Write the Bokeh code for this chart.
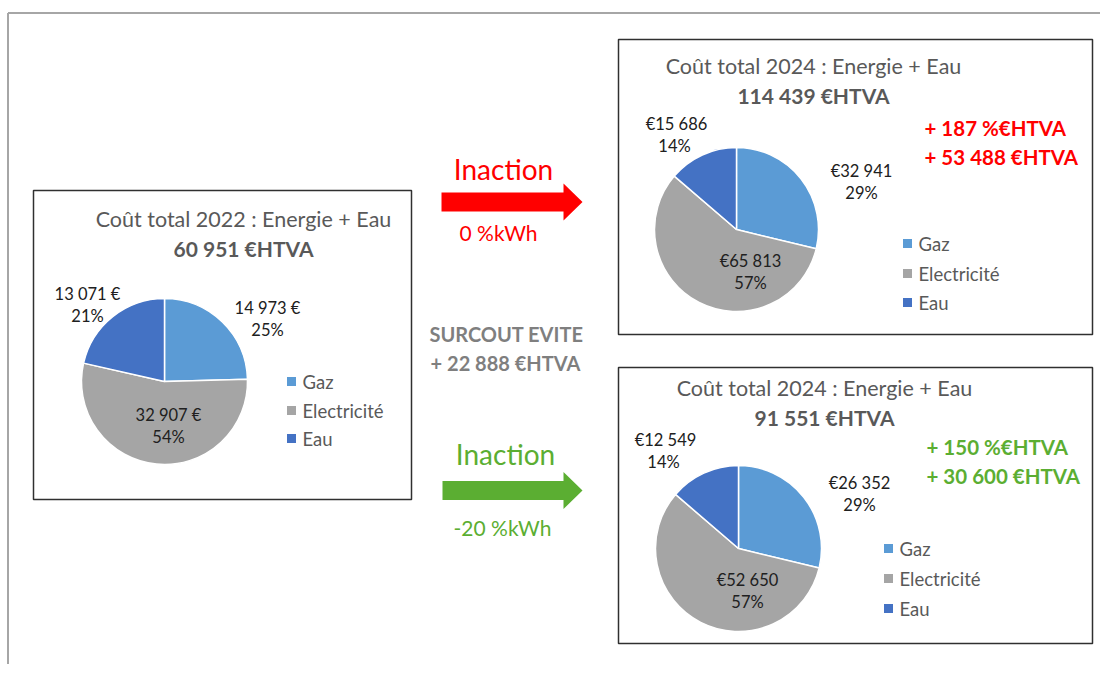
import math
from bokeh.plotting import figure
from bokeh.models import Range1d
from bokeh.core.properties import value
from bokeh.embed import file_html
from bokeh.resources import INLINE

# ---------------- data ----------------
categories = ["Gaz", "Electricité", "Eau"]
colors = ["#5B9BD5", "#A5A5A5", "#4472C4"]

values_2022 = [14973, 32907, 13071]
pct_2022 = [25, 54, 21]
total_2022 = 60951

values_2024_inaction = [32941, 65813, 15686]
pct_2024_inaction = [29, 57, 14]
total_2024_inaction = 114439

values_2024_reduc = [26352, 52650, 12549]
pct_2024_reduc = [29, 57, 14]
total_2024_reduc = 91551

delta_pct_inaction = 187
delta_eur_inaction = 53488
delta_pct_reduc = 150
delta_eur_reduc = 30600
surcout_evite = 22888
kwh_inaction = 0
kwh_reduc = -20

# ---------------- helpers ----------------
FONT = value("Lato")
W, H = 1100, 664


def Y(y):  # picture y (down) -> data y (up)
    return H - y


def sp(n):
    return f"{n:,}".replace(",", " ")


p = figure(width=W, height=H, x_range=Range1d(0, W), y_range=Range1d(0, H),
           output_backend="svg", toolbar_location=None, x_axis_type=None, y_axis_type=None,
           min_border=0, outline_line_color=None, background_fill_color="white")
p.grid.visible = False

# outer frame
p.line(x=[7.5, 7.5], y=[Y(H), Y(12.5)], line_color="#A6A6A6", line_width=2)
p.line(x=[7.5, W], y=[Y(12.5), Y(12.5)], line_color="#A6A6A6", line_width=2)


def text(x, y, s, size, color="#595959", align="center", bold=False):
    p.text(x=[x], y=[Y(y)], text=[s], text_font=FONT, text_font_size=f"{size}px",
           text_color=color, text_align=align, text_baseline="middle",
           text_font_style="bold" if bold else "normal")


def panel(box, center, r, vals, pcts, total, year, fmt, title_xy, label_pos, leg_sq_x, leg_tx_x, leg_y):
    x0, y0, x1, y1 = box
    p.rect(x=[(x0 + x1) / 2], y=[Y((y0 + y1) / 2)], width=[x1 - x0], height=[y1 - y0],
           fill_color="white", line_color="#303030", line_width=1.5)
    s = sum(vals)
    cum = 0.0
    starts, ends = [], []
    for v in vals:
        a0 = cum / s
        cum += v
        a1 = cum / s
        starts.append(math.pi / 2 - a1 * 2 * math.pi)
        ends.append(math.pi / 2 - a0 * 2 * math.pi)
    cx, cy = center
    p.wedge(x=[cx] * 3, y=[Y(cy)] * 3, radius=r, start_angle=starts, end_angle=ends,
            fill_color=colors, line_color="white", line_width=1.5)
    tx, ty = title_xy
    text(tx, ty, f"Coût total {year} : Energie + Eau", 21.5)
    text(tx, ty + 30, f"{sp(total)} €HTVA", 21, bold=True)
    for i, (v, pc) in enumerate(zip(vals, pcts)):
        (lx, ly, lx2) = label_pos[i]
        text(lx, ly, fmt(v), 16.5, color="#202020")
        text(lx2, ly + 22, f"{pc}%", 16.5, color="#202020")
    p.rect(x=[leg_sq_x] * 3, y=[Y(yy) for yy in leg_y], width=9, height=9,
           fill_color=colors, line_color=None)
    for c, yy in zip(categories, leg_y):
        text(leg_tx_x, yy, c, 18.5, align="left")


panel((33, 190, 411, 499), (164, 381), 83, values_2022, pct_2022, total_2022, 2022,
      lambda v: f"{sp(v)} €", (243, 218),
      [(267, 307, 267), (168, 414, 168), (87, 293, 87)], 291, 302, [381, 410, 438])
panel((618, 39, 1092, 334), (736, 229), 82, values_2024_inaction, pct_2024_inaction,
      total_2024_inaction, 2024, lambda v: f"€{sp(v)}", (813, 65),
      [(861, 170, 861), (750, 260, 750), (676, 123, 674)], 907, 918, [243, 273, 302])
panel((618, 367, 1092, 643), (738, 548), 83, values_2024_reduc, pct_2024_reduc,
      total_2024_reduc, 2024, lambda v: f"€{sp(v)}", (824, 387),
      [(859, 482, 859), (747, 579, 747), (665, 439, 663)], 888, 899, [548, 578, 608])

RED = "#FF0000"
GREEN = "#5BAE32"

# deltas
text(924, 127, f"+ {delta_pct_inaction} %€HTVA", 20.5, color=RED, align="left", bold=True)
text(924, 156, f"+ {sp(delta_eur_inaction)} €HTVA", 20.5, color=RED, align="left", bold=True)
text(926, 446, f"+ {delta_pct_reduc} %€HTVA", 20.5, color=GREEN, align="left", bold=True)
text(926, 475, f"+ {sp(delta_eur_reduc)} €HTVA", 20.5, color=GREEN, align="left", bold=True)


def arrow(x0, xh, xt, yc, hs, hh, color):
    xs = [x0, xh, xh, xt, xh, xh, x0]
    ys = [yc - hs, yc - hs, yc - hh, yc, yc + hh, yc + hs, yc + hs]
    p.patch(x=xs, y=[Y(v) for v in ys], fill_color=color, line_color=None)


text(503, 168, "Inaction", 28, color=RED)
arrow(441, 563, 582, 201.5, 9.5, 18.5, RED)
text(498, 232, f"{kwh_inaction} %kWh", 21, color=RED)

text(506, 333, "SURCOUT EVITE", 20, color="#7F7F7F", bold=True)
text(505, 362, f"+ {sp(surcout_evite)} €HTVA", 20, color="#7F7F7F", bold=True)

text(505, 453, "Inaction", 28, color=GREEN)
arrow(442, 563, 582, 490, 9.5, 18.5, GREEN)
text(502, 527, f"{kwh_reduc} %kWh", 21, color=GREEN)

open("out.html", "w").write(file_html(p, INLINE))
